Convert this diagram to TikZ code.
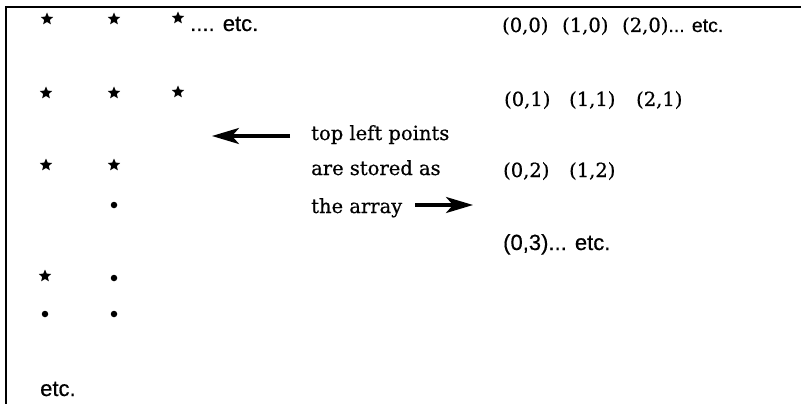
\documentclass[tikz,border=0pt]{standalone}
\usepackage{fontspec}
\setmainfont[FakeBold=0.6]{DejaVu Serif}
\newfontfamily\labelsans[FakeBold=0.5]{Liberation Sans}
\usetikzlibrary{shapes.geometric,arrows.meta}

\begin{document}
\begin{tikzpicture}[x=1pt,y=-1pt,
  starpt/.style={star, star points=5, star point ratio=2.2, fill=black, draw=none, inner sep=0pt, minimum size=13pt},
  dotpt/.style={circle, fill=black, draw=none, inner sep=0pt, minimum size=6.5pt},
  slab/.style={anchor=base west, inner sep=0pt, font=\fontsize{19.5}{22}\selectfont},
  sans/.style={anchor=base west, inner sep=0pt, font=\labelsans\fontsize{22}{24}\selectfont},
  pointer/.style={line width=3.2pt, -{Stealth[length=27pt,width=16pt,inset=7pt]}}]
\useasboundingbox (0,0) rectangle (801,404);

% frame (top and left edges)
\draw[line width=2.5pt] (6,404) -- (6,7) -- (801,7);

% grid of points: stars are stored, dots are not
\node[starpt] (s00) at (47,19) {};
\node[starpt] (s10) at (114,19) {};
\node[starpt] (s20) at (178,18) {};
\node[starpt] (s01) at (46,93) {};
\node[starpt] (s11) at (114,93) {};
\node[starpt] (s21) at (178,92) {};
\node[starpt] (s02) at (46,165) {};
\node[starpt] (s12) at (114,165) {};
\node[dotpt]  (d13) at (114,205) {};
\node[starpt] (s04) at (45,276) {};
\node[dotpt]  (d14) at (114,278) {};
\node[dotpt]  (d05) at (45,314) {};
\node[dotpt]  (d15) at (114,314) {};

\node[sans] (etcrow) at (190,31) {.... etc.};
\node[sans] (etccol) at (40,396) {etc.};

% array indices
\node[slab] (a00) at (502,32) {(0,0)};
\node[slab] (a10) at (562,32) {(1,0)};
\node[slab] (a20) at (622,32) {(2,0){\labelsans... etc.}};
\node[slab] (a01) at (504,106) {(0,1)};
\node[slab] (a11) at (569,106) {(1,1)};
\node[slab] (a21) at (636,106) {(2,1)};
\node[slab] (a02) at (503,177) {(0,2)};
\node[slab] (a12) at (569,177) {(1,2)};
\node[sans] (a03) at (503,250) {(0,3)... etc.};

% explanation
\node[slab] (t1) at (311,140) {top left points};
\node[slab] (t2) at (311,175) {are stored as};
\node[slab] (t3) at (311,213) {the array};

\coordinate (la) at (290,136);
\coordinate (lb) at (212,136);
\coordinate (ra) at (415,205);
\coordinate (rb) at (473,205);
\draw[pointer] (la) -- (lb);
\draw[pointer] (ra) -- (rb);
\end{tikzpicture}
\end{document}
